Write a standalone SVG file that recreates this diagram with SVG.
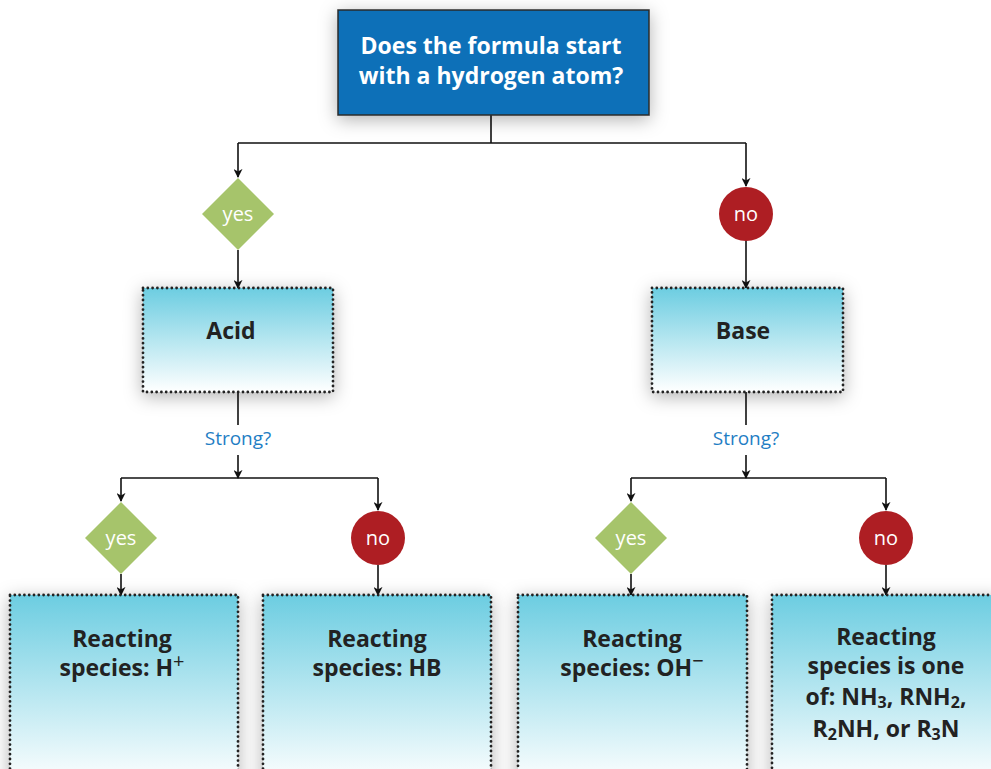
<svg xmlns="http://www.w3.org/2000/svg" width="991" height="769" viewBox="0 0 991 769">
<defs>
<linearGradient id="g" x1="0" y1="0" x2="0" y2="1">
<stop offset="0" stop-color="#6ccde1"/>
<stop offset="1" stop-color="#ffffff"/>
</linearGradient>
<filter id="sh" x="-20%" y="-30%" width="140%" height="160%">
<feDropShadow dx="0" dy="4" stdDeviation="9" flood-color="#000" flood-opacity="0.3"/>
</filter>
<marker id="ar" viewBox="0 0 10 10" refX="9" refY="5" markerWidth="9" markerHeight="9" markerUnits="userSpaceOnUse" orient="auto">
<path d="M0,0 L10,5 L0,10 L3,5 z" fill="#111"/>
</marker>
</defs>
<style>
.ln{stroke:#111;stroke-width:1.6;fill:none}
.box{fill:url(#g);stroke:#222;stroke-width:2.8;stroke-dasharray:0 4.8;stroke-linecap:round;filter:url(#sh)}
.t{font-family:"Open Sans","Liberation Sans",sans-serif;font-weight:700;font-size:23px;fill:#222;text-anchor:middle}
.w{font-family:"Open Sans","Liberation Sans",sans-serif;font-weight:700;font-size:23px;fill:#fff;text-anchor:middle}
.d{font-family:"Open Sans","Liberation Sans",sans-serif;font-size:20px;fill:#fff;text-anchor:middle}
.q{font-family:"Open Sans","Liberation Sans",sans-serif;font-size:19px;fill:#1f7ec4;text-anchor:middle}
.yes{fill:#a6c46b}
.no{fill:#ae1e23}
</style>
<rect width="991" height="769" fill="#fff"/>

<g id="connectors">
<path class="ln" d="M491,115 V143 M238,143 H746"/>
<path class="ln" d="M238,143 V177" marker-end="url(#ar)"/>
<path class="ln" d="M746,143 V186" marker-end="url(#ar)"/>
<path class="ln" d="M238,250 V288" marker-end="url(#ar)"/>
<path class="ln" d="M746,240 V288" marker-end="url(#ar)"/>
<path class="ln" d="M238,392 V425"/>
<path class="ln" d="M238,455 V478" marker-end="url(#ar)"/>
<path class="ln" d="M121,478 H378"/>
<path class="ln" d="M121,478 V501" marker-end="url(#ar)"/>
<path class="ln" d="M378,478 V510" marker-end="url(#ar)"/>
<path class="ln" d="M121,574 V595" marker-end="url(#ar)"/>
<path class="ln" d="M378,565 V595" marker-end="url(#ar)"/>
<path class="ln" d="M746,392 V425"/>
<path class="ln" d="M746,455 V478" marker-end="url(#ar)"/>
<path class="ln" d="M631,478 H886"/>
<path class="ln" d="M631,478 V501" marker-end="url(#ar)"/>
<path class="ln" d="M886,478 V510" marker-end="url(#ar)"/>
<path class="ln" d="M631,574 V595" marker-end="url(#ar)"/>
<path class="ln" d="M886,565 V595" marker-end="url(#ar)"/>
<text class="q" x="238" y="445">Strong?</text>
<text class="q" x="746" y="445">Strong?</text>
</g>

<g id="start">
<rect x="338" y="10" width="311" height="105" fill="#0c6fb8" stroke="#2b2b2b" stroke-width="1.5" filter="url(#sh)"/>
<text class="w" x="491" y="54">Does the formula start</text>
<text class="w" x="491" y="84">with a hydrogen atom?</text>
</g>

<g id="yes1"><path class="yes" d="M238,178 L274,214 L238,250 L202,214 z"/><text class="d" x="238" y="221">yes</text></g>
<g id="no1"><circle class="no" cx="746" cy="214" r="27"/><text class="d" x="746" y="221">no</text></g>

<g id="acid"><rect class="box" x="143" y="288" width="190" height="104"/><text class="t" x="231" y="339">Acid</text></g>
<g id="base"><rect class="box" x="652" y="288" width="191" height="104"/><text class="t" x="743" y="339">Base</text></g>

<g id="yes2"><path class="yes" d="M121,502 L157,538 L121,574 L85,538 z"/><text class="d" x="121" y="545">yes</text></g>
<g id="no2"><circle class="no" cx="378" cy="538" r="27"/><text class="d" x="378" y="545">no</text></g>
<g id="yes3"><path class="yes" d="M631,502 L667,538 L631,574 L595,538 z"/><text class="d" x="631" y="545">yes</text></g>
<g id="no3"><circle class="no" cx="886" cy="538" r="27"/><text class="d" x="886" y="545">no</text></g>

<g id="strongAcid"><rect class="box" x="10" y="595" width="228" height="190"/>
<text class="t" x="122" y="647">Reacting</text>
<text class="t" x="122" y="676">species: H<tspan font-size="20" font-weight="400" dy="-8">+</tspan></text></g>
<g id="weakAcid"><rect class="box" x="263" y="595" width="228" height="190"/>
<text class="t" x="377" y="647">Reacting</text>
<text class="t" x="377" y="676">species: HB</text></g>
<g id="strongBase"><rect class="box" x="518" y="595" width="229" height="190"/>
<text class="t" x="632" y="647">Reacting</text>
<text class="t" x="632" y="676">species: OH<tspan font-size="20" font-weight="400" dy="-8">−</tspan></text></g>
<g id="weakBase"><rect class="box" x="772" y="595" width="230" height="190"/>
<text class="t" x="886" y="645">Reacting</text>
<text class="t" x="886" y="674">species is one</text>
<text class="t" x="886" y="705">of: NH<tspan font-size="16" dy="3">3</tspan><tspan dy="-3">, RNH</tspan><tspan font-size="16" dy="3">2</tspan><tspan dy="-3">,</tspan></text>
<text class="t" x="886" y="737">R<tspan font-size="16" dy="3">2</tspan><tspan dy="-3">NH, or R</tspan><tspan font-size="16" dy="3">3</tspan><tspan dy="-3">N</tspan></text></g>
</svg>
